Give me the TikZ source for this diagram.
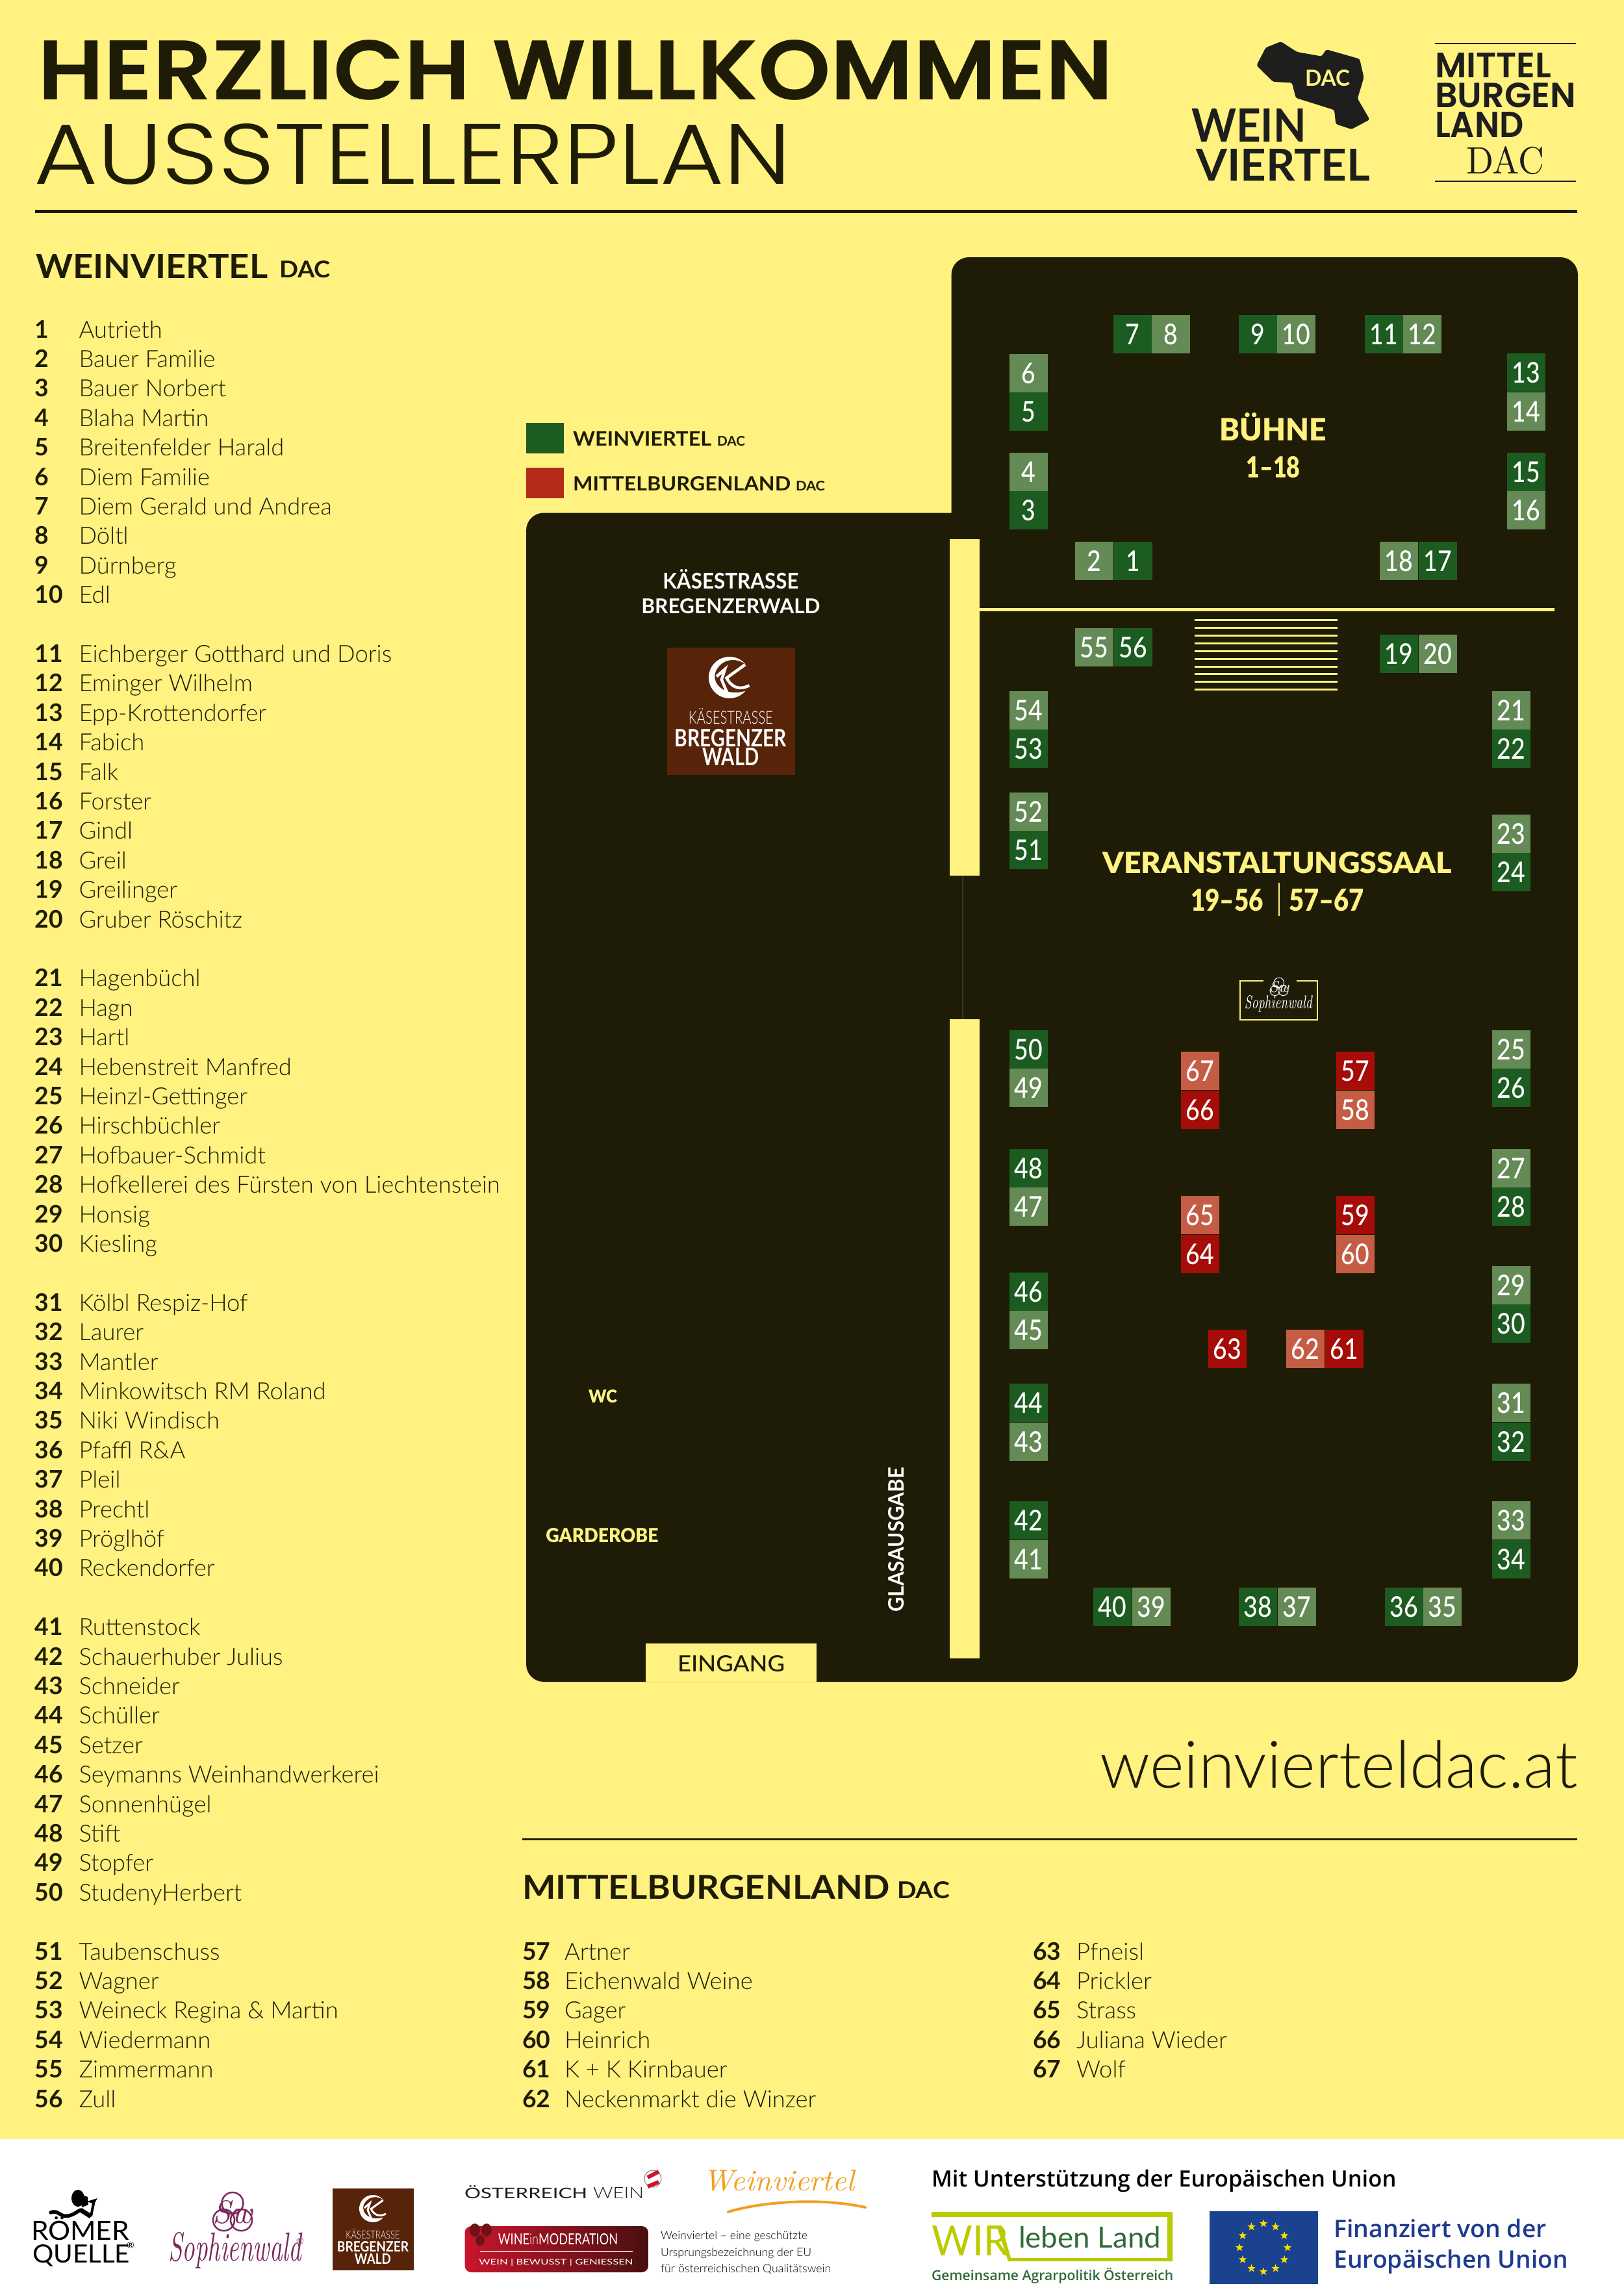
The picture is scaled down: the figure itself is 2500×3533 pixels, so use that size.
\documentclass[tikz,border=0pt]{standalone}
\usepackage{fontspec}
\usepackage{graphicx}
\usetikzlibrary{shapes.geometric}
\newfontfamily\lightfont{Lato Light}
\newfontfamily\plainfont{Lato}
\newfontfamily\mediumfont{Lato Medium}
\newfontfamily\standfont{Lato Medium}[FakeStretch = 0.85]
\newfontfamily\boldfont{Lato Bold}
\newfontfamily\blackfont{Lato Black}
\newfontfamily\heavyfont{Poppins SemiBold}
\newfontfamily\thinfont{Poppins Light}
\newfontfamily\eufont{Open Sans Semibold}
\definecolor{pageyellow}{HTML}{FFF280}
\definecolor{plandark}{HTML}{1E1C06}
\definecolor{logoblack}{HTML}{1E1E1C}
\definecolor{standdark}{HTML}{1D5C20}
\definecolor{standlight}{HTML}{648A55}
\definecolor{reddark}{HTML}{A60D08}
\definecolor{redlight}{HTML}{C55D45}
\definecolor{legendred}{HTML}{B52A18}
\definecolor{kbrown}{HTML}{57240A}
\definecolor{sophie}{HTML}{7B2A5F}
\definecolor{wineorange}{HTML}{F0A020}
\definecolor{wimred}{HTML}{C8162C}
\definecolor{wimdark}{HTML}{4A0F10}
\definecolor{wirlime}{HTML}{B9CC00}
\definecolor{wirgreen}{HTML}{2F6B36}
\definecolor{euflag}{HTML}{1A428F}
\definecolor{eutext}{HTML}{1E3A8F}
\definecolor{eustar}{HTML}{FFDD00}
\definecolor{faintline}{HTML}{3A3820}
\tikzset{
    every node/.style = {inner sep = 0pt, outer sep = 0pt},
    stand/.style = {anchor = north west, minimum size = 0.59cm, text = white, font = \standfont\fontsize{12.5}{13}\selectfont},
    greendark/.style = {stand, fill = standdark},
    greenlight/.style = {stand, fill = standlight},
    rotdark/.style = {stand, fill = reddark},
    rotlight/.style = {stand, fill = redlight},
    fit/.style = {anchor = base west},
    fitmid/.style = {anchor = base},
    listnum/.style = {anchor = base west, text = plandark, font = \boldfont\fontsize{10.6}{12}\selectfont},
    listname/.style = {anchor = base west, text = plandark, font = \lightfont\fontsize{10.35}{12}\selectfont},
    tiny/.style = {anchor = base west, text = black, font = \lightfont\fontsize{5.6}{7}\selectfont},
    eustar/.style = {star, star points = 5, star point ratio = 2.4, fill = eustar, minimum size = 0.13cm},
}
\newcommand{\kaesek}[4]{
    \begin{scope}[shift = {(#1,#2)}, scale = #3]
        \path [fill = white] (-40:1) arc [start angle = -40, end angle = -320, radius = 1] .. controls (-0.35,1) and (-1.1,0.1) .. (-0.5,-0.55) .. controls (-0.2,-0.9) and (0.35,-0.95) .. (-40:1);
        \path [draw = white, line width = #4] (0.75,-0.62) -- (-0.18,0.05);
        \path [draw = white, line width = #4] (-0.15,0) .. controls (0.1,0.5) and (0.5,0.62) .. (0.95,0.38);
        \path [draw = white, line width = #4] (-0.62,-0.05) -- (-0.22,-0.4) -- (-0.38,0.1) -- (-0.12,0.72);
    \end{scope}
}
\newcommand{\swemblem}[7]{
    \begin{scope}[shift = {(#2,#3)}, scale = #4]
        \path [draw = #5, line width = #6] (0,-0.45) circle [radius = 0.55] (-0.45,0.42) circle [radius = 0.55] (0.45,0.42) circle [radius = 0.55];
        \node (#1sw) at (0,0) {\textcolor{#5}{\resizebox{!}{#7cm}{\itshape Sw}}};
    \end{scope}
}
\begin{document}
\begin{tikzpicture}[x = 0.01cm, y = -0.01cm]
        \path [use as bounding box, fill = pageyellow] (0,0) rectangle (2500,3533);
        \path [fill = white] (0,3293) rectangle (2500,3533);
        \node [fit, text = plandark] (titlewelcome) at (58,153) {\resizebox{16.55cm}{0.92cm}{\heavyfont HERZLICH WILLKOMMEN}};
        \node [fit, text = plandark] (titleplan) at (52,283) {\resizebox{11.65cm}{0.93cm}{\thinfont AUSSTELLERPLAN}};
        \path [fill = plandark] (54,323) rectangle (2428,328);
        \path [fill = logoblack, rounded corners = 0.03cm] (1971.9,64) -- (1996.6,80) -- (2034.7,86.7) -- (2041.6,76) -- (2093,90.7) -- (2099.5,119.3) -- (2089.8,151.7) -- (2108.6,184) -- (2080.6,199) -- (2056.3,191) -- (2054,169.3) -- (1994.8,150.7) -- (1988.8,127.3) -- (1959.9,126) -- (1934.2,100.7) -- (1948.5,73.3) -- cycle;
        \node [fit, text = pageyellow] (mapdac) at (2009,133) {\resizebox{0.69cm}{0.25cm}{\boldfont DAC}};
        \node [fit, text = logoblack] (logowein) at (1834,218) {\resizebox{1.77cm}{0.51cm}{\boldfont WEIN}};
        \node [fit, text = logoblack] (logoviertel) at (1841,278) {\resizebox{2.68cm}{0.49cm}{\boldfont VIERTEL}};
        \path [draw = logoblack, line width = 0.02cm] (2209,66.7) -- (2426,66.7);
        \path [draw = logoblack, line width = 0.02cm] (2209,279) -- (2426,279);
        \node [fit, text = logoblack] (logomittel) at (2209,119) {\resizebox{1.79cm}{0.38cm}{\heavyfont MITTEL}};
        \node [fit, text = logoblack] (logoburgen) at (2209,165) {\resizebox{2.17cm}{0.38cm}{\heavyfont BURGEN}};
        \node [fit, text = logoblack] (logoland) at (2209,211) {\resizebox{1.365cm}{0.39cm}{\heavyfont LAND}};
        \node [fit, text = logoblack] (logodac) at (2257,267) {\resizebox{1.2cm}{0.42cm}{DAC}};
        \node [fit, text = plandark] (headwein) at (55,428) {\resizebox{3.57cm}{0.37cm}{\boldfont WEINVIERTEL}};
        \node [fit, text = plandark] (headweindac) at (430,427) {\resizebox{0.79cm}{0.26cm}{\boldfont DAC}};
        \foreach \n/\who in {1/Autrieth,2/Bauer Familie,3/Bauer Norbert,4/Blaha Martin,5/Breitenfelder Harald,6/Diem Familie,7/Diem Gerald und Andrea,8/Döltl,9/Dürnberg,10/Edl,11/Eichberger Gotthard und Doris,12/Eminger Wilhelm,13/Epp-Krottendorfer,14/Fabich,15/Falk,16/Forster,17/Gindl,18/Greil,19/Greilinger,20/Gruber Röschitz,21/Hagenbüchl,22/Hagn,23/Hartl,24/Hebenstreit Manfred,25/Heinzl-Gettinger,26/Hirschbüchler,27/Hofbauer-Schmidt,28/Hofkellerei des Fürsten von Liechtenstein,29/Honsig,30/Kiesling,31/Kölbl Respiz-Hof,32/Laurer,33/Mantler,34/Minkowitsch RM Roland,35/Niki Windisch,36/Pfaffl R\&A,37/Pleil,38/Prechtl,39/Pröglhöf,40/Reckendorfer,41/Ruttenstock,42/Schauerhuber Julius,43/Schneider,44/Schüller,45/Setzer,46/Seymanns Weinhandwerkerei,47/Sonnenhügel,48/Stift,49/Stopfer,50/StudenyHerbert,51/Taubenschuss,52/Wagner,53/Weineck Regina \& Martin,54/Wiedermann,55/Zimmermann,56/Zull} {
            \pgfmathsetmacro\rowy{520+45.4*(\n-1+floor((\n-1)/10))}
            \node [listnum] (num\n) at (54,\rowy) {\n};
            \node [listname] (name\n) at (121.5,\rowy) {\who};
        }
        \foreach \n/\who [count = \i from 0] in {57/Artner,58/Eichenwald Weine,59/Gager,60/Heinrich,61/K + K Kirnbauer,62/Neckenmarkt die Winzer} {
            \pgfmathsetmacro\rowy{3017+45.4*\i}
            \node [listnum] (num\n) at (804,\rowy) {\n};
            \node [listname] (name\n) at (869,\rowy) {\who};
        }
        \foreach \n/\who [count = \i from 0] in {63/Pfneisl,64/Prickler,65/Strass,66/Juliana Wieder,67/Wolf} {
            \pgfmathsetmacro\rowy{3017+45.4*\i}
            \node [listnum] (num\n) at (1590,\rowy) {\n};
            \node [listname] (name\n) at (1657,\rowy) {\who};
        }
        \path [fill = standdark] (810,651) rectangle (868,698);
        \path [fill = legendred] (810,720) rectangle (868,767);
        \node [fit, text = plandark] (keywein) at (882,686) {\resizebox{2.13cm}{0.22cm}{\boldfont WEINVIERTEL}};
        \node [fit, text = plandark] (keyweindac) at (1104,686) {\resizebox{0.43cm}{0.15cm}{\boldfont DAC}};
        \node [fit, text = plandark] (keymittel) at (882,755) {\resizebox{3.35cm}{0.22cm}{\boldfont MITTELBURGENLAND}};
        \node [fit, text = plandark] (keymitteldac) at (1225,755) {\resizebox{0.45cm}{0.15cm}{\boldfont DAC}};
        \path [fill = plandark] [rounded corners = 0.27cm] (810,1500) -- (810,789.5) [sharp corners] -- (1464.5,789.5) -- (1464.5,600) [rounded corners = 0.27cm] -- (1464.5,396) -- (2429,396) -- (2429,2589) -- (810,2589) -- cycle;
        \path [fill = pageyellow] (1462,830) rectangle (1508,1348);
        \path [fill = pageyellow] (1462,1569) rectangle (1508,2553);
        \path [draw = faintline, line width = 0.015cm] (1482,1348) -- (1482,1569);
        \path [fill = pageyellow] (994,2530) rectangle (1257,2589);
        \path [fill = pageyellow] (1508,935.5) rectangle (2393,940.5);
        \foreach \i in {0,...,9} {
            \path [draw = pageyellow, line width = 0.03cm] (1839,954.6+11.9*\i) -- (2059,954.6+11.9*\i);
        }
        \foreach \n/\x/\y in {7/1714/485,9/1907/485,11/2101/485,5/1554/604,13/2320/544,3/1554/756,15/2320/697,1/1715/834,17/2184/834,56/1715/967,19/2124/977,53/1554/1123,22/2297/1123,51/1554/1279,24/2297/1313,50/1554/1586,26/2297/1645,48/1554/1769,28/2297/1828,46/1554/1959,30/2297/2008,44/1554/2130,32/2297/2190,42/1554/2311,34/2297/2371,40/1683/2444,38/1907/2444,36/2132/2444} {
            \node [greendark] (st\n) at (\x,\y) {\n};
        }
        \foreach \n/\x/\y in {8/1773/485,10/1966/485,12/2160/485,6/1554/545,14/2320/604,4/1554/697,16/2320/756,2/1655/834,18/2124/834,55/1655/967,20/2184/977,54/1554/1064,21/2297/1064,52/1554/1220,23/2297/1254,49/1554/1645,25/2297/1586,47/1554/1828,27/2297/1769,45/1554/2018,29/2297/1949,43/1554/2190,31/2297/2130,41/1554/2371,33/2297/2311,39/1743/2444,37/1967/2444,35/2191/2444} {
            \node [greenlight] (st\n) at (\x,\y) {\n};
        }
        \foreach \n/\x/\y in {66/1818/1679,57/2057/1619,64/1818/1901,59/2057/1841,63/1860/2047,61/2040/2047} {
            \node [rotdark] (st\n) at (\x,\y) {\n};
        }
        \foreach \n/\x/\y in {67/1818/1619,58/2057/1679,65/1818/1841,60/2057/1901,62/1980/2047} {
            \node [rotlight] (st\n) at (\x,\y) {\n};
        }
        \node [fitmid, text = white] (kaese1) at (1125,906) {\resizebox{2.09cm}{0.3cm}{\boldfont KÄSESTRASSE}};
        \node [fitmid, text = white] (kaese2) at (1125,944) {\resizebox{2.75cm}{0.23cm}{\boldfont BREGENZERWALD}};
        \path [fill = kbrown] (1027,997) rectangle (1224,1193);
        \kaesek{1123}{1043}{32}{0.045cm}
        \node [fitmid, text = white] (plankaese) at (1125,1114) {\resizebox{1.3cm}{0.24cm}{\lightfont KÄSESTRASSE}};
        \node [fitmid, text = white] (planbreg) at (1125,1149) {\resizebox{1.72cm}{0.27cm}{\boldfont BREGENZER}};
        \node [fitmid, text = white] (planwald) at (1125,1178) {\resizebox{0.87cm}{0.27cm}{\boldfont WALD}};
        \node [fitmid, text = pageyellow] (buehne) at (1960,678) {\resizebox{1.64cm}{0.43cm}{\blackfont BÜHNE}};
        \node [fitmid, text = pageyellow] (buehnenr) at (1960,735) {\resizebox{0.83cm}{0.33cm}{\blackfont 1–18}};
        \node [fitmid, text = pageyellow] (saal) at (1966,1344) {\resizebox{5.37cm}{0.33cm}{\blackfont VERANSTALTUNGSSAAL}};
        \node [fit, text = pageyellow] (saalgreen) at (1833,1402) {\resizebox{1.12cm}{0.34cm}{\blackfont 19–56}};
        \node [fit, text = pageyellow] (saalred) at (1984,1402) {\resizebox{1.16cm}{0.34cm}{\blackfont 57–67}};
        \path [draw = pageyellow, line width = 0.02cm] (1969,1359) -- (1969,1410);
        \path [draw = pageyellow, line width = 0.02cm] (1945,1510) -- (1909,1510) -- (1909,1570) -- (2028,1570) -- (2028,1510) -- (1995.5,1510);
        \swemblem{plan}{1969}{1519}{14}{white}{0.01cm}{0.17}
        \node [fitmid, text = white] (plansophie) at (1968,1552) {\resizebox{1.04cm}{0.2cm}{\itshape Sophienwald}};
        \node [fitmid, text = pageyellow] (wc) at (928,2159) {\resizebox{0.44cm}{0.2cm}{\blackfont WC}};
        \node [fitmid, text = pageyellow] (garderobe) at (927,2374) {\resizebox{1.73cm}{0.22cm}{\blackfont GARDEROBE}};
        \node [fit, rotate = 90, text = white] (glas) at (1391,2481) {\resizebox{2.22cm}{0.24cm}{\boldfont GLASAUSGABE}};
        \node [fit, text = plandark] (eingang) at (1043,2573) {\resizebox{1.65cm}{0.25cm}{\mediumfont EINGANG}};
        \node [anchor = base east, text = plandark] (website) at (2428,2752) {\resizebox{7.34cm}{!}{\lightfont weinvierteldac.at}};
        \path [fill = plandark] (804,2829.5) rectangle (2428,2833);
        \node [fit, text = plandark] (headmittel) at (804,2923) {\resizebox{5.65cm}{0.37cm}{\boldfont MITTELBURGENLAND}};
        \node [fit, text = plandark] (headmitteldac) at (1381,2922) {\resizebox{0.81cm}{0.26cm}{\boldfont DAC}};
        \path [fill = black] (120,3384) circle [x radius = 0.1cm, y radius = 0.13cm];
        \path [fill = black] (124,3378) -- (135,3382) -- (136,3394) -- (126,3398) -- cycle;
        \path [fill = black] (134,3389) -- (150,3384) -- (145,3393) -- cycle;
        \path [draw = black, line width = 0.055cm, line cap = round] (78,3406) .. controls (90,3401) and (92,3414) .. (106,3411) .. controls (114,3409) and (118,3405) .. (124,3402);
        \path [draw = black, line width = 0.07cm] (124,3402) -- (140,3412);
        \path [draw = black, line width = 0.04cm] (140,3412) -- (144,3392);
        \node [fit, text = black] (roemer) at (48,3448) {\resizebox{1.51cm}{0.36cm}{\plainfont RÖMER}};
        \node [fit, text = black] (quelle) at (50,3483) {\resizebox{1.5cm}{0.28cm}{\plainfont QUELLE}};
        \node [text = black, font = \plainfont\fontsize{4}{4}\selectfont] (roemerreg) at (201,3456) {®};
        \swemblem{foot}{358}{3405}{30}{sophie}{0.025cm}{0.35}
        \node [fit, text = sophie] (footsophie) at (259,3480) {\resizebox{2.05cm}{0.44cm}{\itshape Sophienwald}};
        \node [text = sophie, font = \plainfont\fontsize{4}{4}\selectfont] (sophiereg) at (462,3450) {®};
        \path [fill = kbrown] (511.5,3369) rectangle (637,3495);
        \kaesek{574}{3400}{21}{0.03cm}
        \node [fitmid, text = white] (footkaese) at (574,3446) {\resizebox{0.83cm}{0.15cm}{\lightfont KÄSESTRASSE}};
        \node [fitmid, text = white] (footbreg) at (574,3466) {\resizebox{1.1cm}{0.16cm}{\boldfont BREGENZER}};
        \node [fitmid, text = white] (footwald) at (574,3485) {\resizebox{0.56cm}{0.16cm}{\boldfont WALD}};
        \node [fit, text = logoblack] (oestbold) at (715,3384) {\resizebox{1.89cm}{0.2cm}{\plainfont ÖSTERREICH}};
        \node [fit, text = logoblack] (oestwein) at (913,3384) {\resizebox{0.78cm}{0.17cm}{\lightfont WEIN}};
        \path [draw = gray, fill = white, line width = 0.01cm] (1005,3354) circle [radius = 0.13cm];
        \path [draw = wimred, line width = 0.06cm] (997,3352) -- (1014,3343);
        \path [draw = wimred, line width = 0.06cm] (997,3366) -- (1014,3359);
        \node [fit, text = wineorange] (orangewein) at (1082,3372) {\resizebox{2.33cm}{0.32cm}{\itshape Weinviertel}};
        \path [draw = wineorange, line width = 0.04cm, line cap = round] (1121,3405) .. controls (1170,3390) and (1260,3382) .. (1332,3398);
        \path [left color = wimred, right color = wimdark, rounded corners = 0.1cm] (715.5,3427) rectangle (998,3498);
        \path [fill = wimdark!70!wimred] (731,3433) circle [x radius = 0.08cm, y radius = 0.1cm] (749,3433) circle [x radius = 0.08cm, y radius = 0.1cm] (739,3449) circle [x radius = 0.07cm, y radius = 0.08cm];
        \node [fitmid, text = white] (wimtitle) at (859,3455) {\resizebox{1.84cm}{0.17cm}{\plainfont WINE{\lightfont in}MODERATION}};
        \path [draw = white!70!wimred, line width = 0.015cm] (739,3466) -- (974,3466);
        \node [fitmid, text = white] (wimsub) at (856,3486) {\resizebox{2.37cm}{0.09cm}{\plainfont WEIN | BEWUSST | GENIESSEN}};
        \node [tiny] (note1) at (1017,3447) {\resizebox{2.26cm}{!}{Weinviertel – eine geschützte}};
        \node [tiny] (note2) at (1017,3473) {\resizebox{2.32cm}{!}{Ursprungsbezeichnung der EU}};
        \node [tiny] (note3) at (1017,3498) {\resizebox{2.62cm}{!}{für österreichischen Qualitätswein}};
        \node [fit, text = black] (eusupport) at (1434,3366) {\resizebox{7.15cm}{!}{\eufont Mit Unterstützung der Europäischen Union}};
        \path [fill = wirlime] (1434,3405) -- (1805,3405) -- (1805,3481) -- (1552,3481) -- (1534,3426) -- (1542,3426) -- (1556,3476) -- (1797,3476) -- (1797,3413) -- (1434,3413) -- cycle;
        \node [fit, text = wirlime] (wir) at (1434,3472) {\resizebox{1.18cm}{0.46cm}{\plainfont WIR}};
        \node [fit, text = wirgreen] (lebenland) at (1568,3460) {\resizebox{2.19cm}{0.33cm}{\plainfont leben Land}};
        \node [fit, text = wirgreen] (gap) at (1434,3510) {\resizebox{3.72cm}{!}{\eufont Gemeinsame Agrarpolitik Österreich}};
        \path [fill = euflag] (1861.5,3404) rectangle (2029,3516);
        \begin{scope}[shift = {(1945,3460)}]
            \foreach \a in {0,30,...,330} {
                \node [eustar] (star\a) at (\a:37) {};
            }
        \end{scope}
        \node [fit, text = eutext] (finanz1) at (2053.5,3444) {\resizebox{3.27cm}{!}{\eufont Finanziert von der}};
        \node [fit, text = eutext] (finanz2) at (2053.5,3491) {\resizebox{3.6cm}{!}{\eufont Europäischen Union}};
\end{tikzpicture}
\end{document}
